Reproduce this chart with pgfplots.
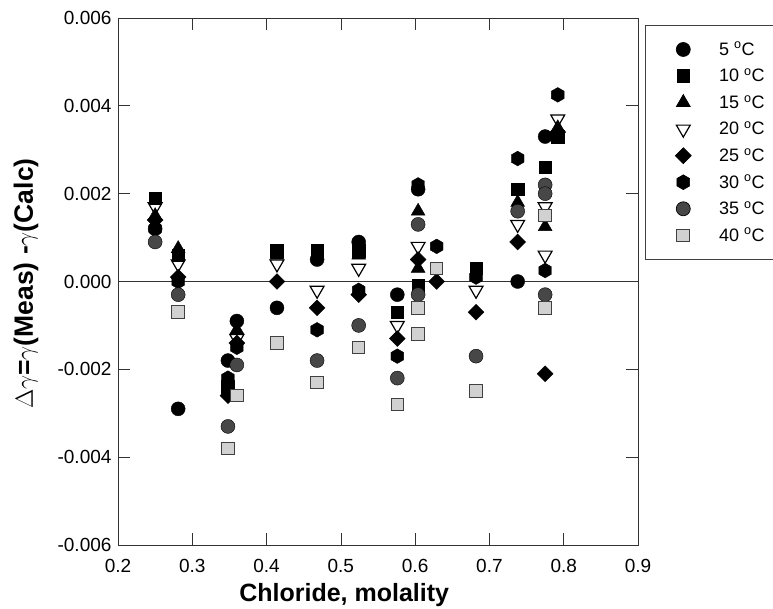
\documentclass[border=0pt]{standalone}
\usepackage{fontspec}
\setmainfont{Liberation Sans}
\usepackage{pgfplots}
\pgfplotsset{compat=1.18}
\pgfdeclareplotmark{hexagon*}{%
  \pgfpathmoveto{\pgfpoint{0pt}{1.08\pgfplotmarksize}}%
  \pgfpathlineto{\pgfpoint{-0.935\pgfplotmarksize}{0.54\pgfplotmarksize}}%
  \pgfpathlineto{\pgfpoint{-0.935\pgfplotmarksize}{-0.54\pgfplotmarksize}}%
  \pgfpathlineto{\pgfpoint{0pt}{-1.08\pgfplotmarksize}}%
  \pgfpathlineto{\pgfpoint{0.935\pgfplotmarksize}{-0.54\pgfplotmarksize}}%
  \pgfpathlineto{\pgfpoint{0.935\pgfplotmarksize}{0.54\pgfplotmarksize}}%
  \pgfpathclose\pgfusepathqfillstroke}
\begin{document}
\begin{tikzpicture}
\begin{axis}[
  scale only axis, width=520pt, height=527pt,
  xmin=0.2, xmax=0.9, ymin=-0.006, ymax=0.006,
  xtick={0.2,0.3,0.4,0.5,0.6,0.7,0.8,0.9},
  ytick={-0.006,-0.004,-0.002,0,0.002,0.004,0.006},
  tick align=inside, major tick length=12pt,
  axis line style={black!80, line width=0.7pt},
  tick style={black!80, line width=0.7pt},
  tick label style={font=\fontsize{19}{23}\selectfont},
  /pgf/number format/assume math mode=true,
  x tick label style={yshift=-11pt, /pgf/number format/fixed, /pgf/number format/fixed zerofill, /pgf/number format/precision=1},
  y tick label style={xshift=-3pt, /pgf/number format/fixed, /pgf/number format/fixed zerofill, /pgf/number format/precision=3},
  scaled y ticks=false, scaled x ticks=false,
  xlabel={\bfseries Chloride, molality},
  ylabel={\bfseries $\Delta\gamma$=$\gamma$(Meas) -$\gamma$(Calc)},
  xlabel style={font=\fontsize{25}{30}\selectfont, at={(axis description cs:0.435,-0.095)},anchor=center},
  ylabel style={font=\fontsize{26.5}{30}\selectfont, at={(axis description cs:-0.177,0.496)},anchor=center},
  legend style={at={(axis description cs:1.0135,0.987)}, anchor=north west,
    draw=black!75, line width=0.7pt, font=\fontsize{18}{22}\selectfont,
    inner xsep=30pt, inner ysep=15pt, row sep=8pt,
    /tikz/every odd column/.append style={column sep=26pt}},
  legend cell align=left,
]
\addplot[forget plot, black!80, line width=0.7pt, mark=none] coordinates {(0.2,0) (0.9,0)};
% 5 C
\addplot[only marks, mark=*, mark size=7pt, black, fill=black] coordinates {
(0.250,0.0012) (0.281,-0.0029) (0.360,-0.0009) (0.348,-0.0018) (0.414,-0.0006)
(0.468,0.0005) (0.524,0.0009) (0.576,-0.0003) (0.604,0.0021) (0.738,0.0000) (0.775,0.0033)};
\addlegendentry{5 $^{\mathrm{o}}$C}
% 10 C
\addplot[only marks, mark=square*, mark size=6.3pt, black, fill=black] coordinates {
(0.250,0.0019) (0.281,0.0006) (0.348,-0.0024) (0.414,0.0007) (0.468,0.0007) (0.524,0.0007)
(0.576,-0.0007) (0.604,-0.0001) (0.682,0.0003) (0.738,0.0021) (0.775,0.0026) (0.792,0.0033)};
\addlegendentry{10 $^{\mathrm{o}}$C}
% 15 C
\addplot[only marks, mark=triangle*, mark size=8pt, black, fill=black] coordinates {
(0.250,0.0015) (0.281,0.00075) (0.360,-0.0011) (0.414,0.0006) (0.524,0.0006) (0.604,0.0016)
(0.604,0.0003) (0.738,0.0018) (0.775,0.00125) (0.792,0.0035)};
\addlegendentry{15 $^{\mathrm{o}}$C}
% 20 C
\addplot[only marks, mark=triangle, mark size=8pt, mark options={rotate=180, line width=1.2pt}, black] coordinates {
(0.250,0.0017) (0.281,0.0004) (0.360,-0.0013) (0.414,0.0004) (0.468,-0.0002) (0.524,0.0003)
(0.576,-0.0010) (0.604,0.0008) (0.682,-0.0002) (0.738,0.0013) (0.775,0.0017) (0.775,0.0006) (0.792,0.0037)};
\addlegendentry{20 $^{\mathrm{o}}$C}
% 25 C
\addplot[only marks, mark=square*, mark size=5.6pt, mark options={rotate=45}, black, fill=black] coordinates {
(0.250,0.0014) (0.281,0.0001) (0.348,-0.0026) (0.360,-0.0014) (0.414,0.0000) (0.468,-0.0006)
(0.524,-0.0003) (0.576,-0.0013) (0.604,0.0005) (0.629,0.0000) (0.682,-0.0007) (0.738,0.0009)
(0.775,-0.0021) (0.792,0.0034)};
\addlegendentry{25 $^{\mathrm{o}}$C}
% 30 C
\addplot[only marks, mark=hexagon*, mark size=6.8pt, black, fill=black] coordinates {
(0.250,0.0012) (0.281,0.0000) (0.348,-0.0022) (0.360,-0.0015) (0.468,-0.0011) (0.524,-0.0002)
(0.576,-0.0017) (0.604,0.0022) (0.629,0.0008) (0.682,0.0001) (0.738,0.0028) (0.775,0.00025) (0.792,0.00425)};
\addlegendentry{30 $^{\mathrm{o}}$C}
% 35 C
\addplot[only marks, mark=*, mark size=7pt, black, fill=black!72] coordinates {
(0.250,0.0009) (0.281,-0.0003) (0.348,-0.0033) (0.360,-0.0019) (0.468,-0.0018) (0.524,-0.0010)
(0.576,-0.0022) (0.604,0.0013) (0.604,-0.0003) (0.682,-0.0017) (0.738,0.0016) (0.775,0.0022)
(0.775,0.0020) (0.775,-0.0003)};
\addlegendentry{35 $^{\mathrm{o}}$C}
% 40 C
\addplot[only marks, mark=square*, mark size=6.3pt, draw=black!75, fill=black!18, mark options={line width=1pt}] coordinates {
(0.281,-0.0007) (0.348,-0.0038) (0.360,-0.0026) (0.414,-0.0014) (0.468,-0.0023) (0.524,-0.0015)
(0.576,-0.0028) (0.604,-0.0006) (0.604,-0.0012) (0.629,0.0003) (0.682,-0.0025) (0.775,0.0015) (0.775,-0.0006)};
\addlegendentry{40 $^{\mathrm{o}}$C}
\end{axis}
\pgfresetboundingbox
\path[use as bounding box] (-118pt,-64pt) rectangle (655pt,545pt);
\end{tikzpicture}
\end{document}
